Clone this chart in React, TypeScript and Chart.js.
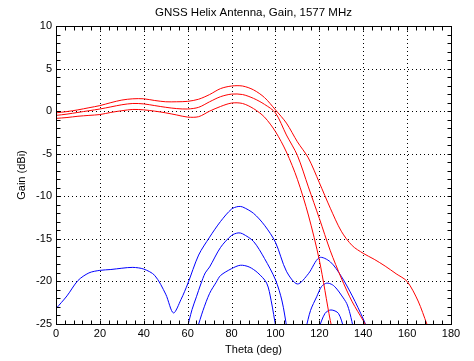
import { useEffect, useRef } from "react";
import { Chart, registerables } from "chart.js";

Chart.register(...registerables);

const chartTitle = "GNSS Helix Antenna, Gain, 1577 MHz";
const xAxisTitle = "Theta (deg)";
const yAxisTitle = "Gain (dBi)";

const xTickValues = [0, 20, 40, 60, 80, 100, 120, 140, 160, 180];
const yTickValues = [-25, -20, -15, -10, -5, 0, 5, 10];
const xMinorStep = 4;
const yMinorStep = 1;

// Red curves
const redUpperTheta = [0, 5, 10, 15, 20, 25, 30, 35, 40, 45, 50, 55, 60, 65, 70, 75, 80, 85, 90, 95, 100, 105, 110, 115, 120, 125, 130, 135, 140, 145, 150, 155, 160, 165, 169, 171];
const redUpperGain = [-0.2, -0.05, 0.15, 0.4, 0.65, 1.0, 1.3, 1.45, 1.45, 1.25, 1.1, 1.1, 1.15, 1.4, 1.95, 2.65, 2.95, 2.95, 2.5, 1.6, 0.15, -1.4, -3.6, -5.5, -8.4, -11.4, -14.1, -15.8, -16.7, -17.4, -18.2, -19.1, -20.0, -22.3, -25.0, -26.3];

const redMiddleTheta = [0, 5, 10, 15, 20, 25, 30, 35, 40, 45, 50, 55, 60, 65, 70, 75, 80, 85, 90, 95, 100, 105, 110, 115, 120, 125, 130, 135, 140, 143];
const redMiddleGain = [-0.5, -0.35, -0.15, 0.05, 0.25, 0.5, 0.75, 0.9, 0.85, 0.65, 0.45, 0.3, 0.25, 0.45, 1.1, 1.7, 2.0, 1.95, 1.5, 0.8, -0.2, -2.8, -5.2, -8.9, -12.6, -16.4, -19.6, -22.4, -24.6, -26.0];

const redLowerTheta = [0, 5, 10, 15, 20, 25, 30, 35, 40, 45, 50, 55, 60, 65, 70, 75, 80, 85, 90, 95, 100, 105, 110, 115, 120, 125, 127];
const redLowerGain = [-0.85, -0.75, -0.6, -0.5, -0.4, -0.15, 0.05, 0.2, 0.15, 0.0, -0.2, -0.45, -0.7, -0.65, 0.0, 0.55, 0.95, 0.9, 0.3, -0.7, -2.4, -4.8, -8.0, -12.2, -17.5, -24.6, -26.8];

// Blue curves
const blueUpperTheta = [0, 5, 10, 15, 20, 25, 30, 35, 40, 45, 50, 53.5, 57, 60, 65, 70, 75, 80, 83, 85, 90, 95, 100, 105, 110, 115, 120, 125, 130, 135, 140, 142.5];
const blueUpperGain = [-23.2, -21.7, -19.9, -19.0, -18.7, -18.6, -18.45, -18.35, -18.55, -19.3, -21.5, -23.7, -22.1, -20.3, -16.9, -14.8, -12.95, -11.5, -11.2, -11.25, -12.0, -13.4, -15.4, -18.8, -20.3, -19.1, -17.2, -17.7, -19.4, -21.7, -24.4, -26.0];

const blueMiddleTheta = [59.5, 62, 64, 66, 68, 70, 75, 80, 83, 85, 90, 95, 100, 103, 105.3, 110, 113.8, 116, 118.8, 121, 123.4, 126, 128, 130, 132.5, 134, 135.6];
const blueMiddleGain = [-25.8, -23.3, -21.8, -20.3, -19.0, -18.3, -16.0, -14.6, -14.3, -14.4, -15.3, -17.3, -19.8, -22.3, -25.6, null, -25.6, -23.4, -21.8, -20.6, -20.2, -20.4, -20.9, -21.6, -22.6, -23.8, -25.6];

const blueLowerTheta = [64.3, 67, 70, 73, 75, 80, 84, 88, 92, 96, 98, 100.3, 110, 119.6, 122.6, 125.3, 128.7, 131.3];
const blueLowerGain = [-25.6, -23.4, -21.4, -20.1, -19.3, -18.5, -18.1, -18.3, -19.0, -20.2, -22.2, -25.6, null, -25.6, -23.75, -23.35, -23.75, -25.6];

const FONT = '"Liberation Sans", Arial, Helvetica, sans-serif';

function toPoints(theta: number[], gain: (number | null)[]) {
  return theta.map((t, i) => ({ x: t, y: gain[i] }));
}

const framePlugin = {
  id: "matlabFrame",
  beforeDatasetsDraw(chart: any) {
    const { ctx, chartArea: a, scales } = chart;
    const x = scales.x;
    const y = scales.y;
    ctx.save();
    ctx.strokeStyle = "#000";
    ctx.lineWidth = 1;
    ctx.setLineDash([1, 3]);
    for (const v of xTickValues) {
      if (v === x.min || v === x.max) continue;
      const px = Math.round(x.getPixelForValue(v)) + 0.5;
      ctx.beginPath();
      ctx.moveTo(px, a.bottom);
      ctx.lineTo(px, a.top);
      ctx.stroke();
    }
    for (const v of yTickValues) {
      if (v === y.min || v === y.max) continue;
      const py = Math.round(y.getPixelForValue(v)) + 0.5;
      ctx.beginPath();
      ctx.moveTo(a.left, py);
      ctx.lineTo(a.right, py);
      ctx.stroke();
    }
    ctx.restore();
  },
  afterDatasetsDraw(chart: any) {
    const { ctx, chartArea: a, scales } = chart;
    const x = scales.x;
    const y = scales.y;
    const L = Math.round(a.left) + 0.5;
    const R = Math.round(a.right) + 0.5;
    const T = Math.round(a.top) + 0.5;
    const B = Math.round(a.bottom) + 0.5;
    const tl = 4;
    ctx.save();
    ctx.strokeStyle = "#000";
    ctx.lineWidth = 1;
    ctx.setLineDash([]);
    ctx.beginPath();
    for (let v = x.min; v <= x.max + 1e-9; v += xMinorStep) {
      const px = Math.round(x.getPixelForValue(v)) + 0.5;
      ctx.moveTo(px, B);
      ctx.lineTo(px, B - tl);
      ctx.moveTo(px, T);
      ctx.lineTo(px, T + tl);
    }
    for (let v = y.min; v <= y.max + 1e-9; v += yMinorStep) {
      const py = Math.round(y.getPixelForValue(v)) + 0.5;
      ctx.moveTo(L, py);
      ctx.lineTo(L + tl, py);
      ctx.moveTo(R, py);
      ctx.lineTo(R - tl, py);
    }
    ctx.stroke();
    ctx.strokeRect(L, T, R - L, B - T);
    ctx.restore();
  },
  afterDraw(chart: any) {
    const { ctx, chartArea: a } = chart;
    ctx.save();
    ctx.fillStyle = "#000";
    ctx.font = `11.5px ${FONT}`;
    ctx.textAlign = "center";
    ctx.textBaseline = "middle";
    ctx.fillText(chartTitle, (a.left + a.right) / 2, 13);
    ctx.restore();
  },
};

export default function App() {
  const canvasRef = useRef<HTMLCanvasElement | null>(null);

  useEffect(() => {
    if (!canvasRef.current) return;
    const line = (label: string, color: string, theta: number[], gain: (number | null)[]) => ({
      label,
      data: toPoints(theta, gain),
      borderColor: color,
      backgroundColor: color,
      borderWidth: 1,
      pointRadius: 0,
      tension: 0.3,
      spanGaps: false,
      fill: false,
    });
    const chart = new Chart(canvasRef.current, {
      type: "line",
      data: {
        datasets: [
          line("Red upper", "#ff0000", redUpperTheta, redUpperGain),
          line("Red middle", "#ff0000", redMiddleTheta, redMiddleGain),
          line("Red lower", "#ff0000", redLowerTheta, redLowerGain),
          line("Blue upper", "#0000ff", blueUpperTheta, blueUpperGain),
          line("Blue middle", "#0000ff", blueMiddleTheta, blueMiddleGain),
          line("Blue lower", "#0000ff", blueLowerTheta, blueLowerGain),
        ] as any,
      },
      options: {
        animation: false,
        responsive: true,
        maintainAspectRatio: false,
        events: [],
        layout: { padding: { left: 0, right: 23, top: 26, bottom: 0 } },
        plugins: {
          legend: { display: false },
          title: { display: false },
          tooltip: { enabled: false },
        },
        scales: {
          x: {
            type: "linear",
            min: 0,
            max: 180,
            grid: { display: false, drawTicks: false },
            border: { display: false },
            afterBuildTicks: (s: any) => {
              s.ticks = xTickValues.map((v) => ({ value: v }));
            },
            afterFit: (s: any) => {
              s.height = 37;
            },
            ticks: {
              color: "#000",
              font: { family: FONT, size: 11 },
              padding: 3,
              maxRotation: 0,
              autoSkip: false,
            },
            title: {
              display: true,
              text: xAxisTitle,
              color: "#000",
              font: { family: FONT, size: 11 },
              padding: { top: 0, bottom: 4 },
            },
          },
          y: {
            type: "linear",
            min: -25,
            max: 10,
            grid: { display: false, drawTicks: false },
            border: { display: false },
            afterBuildTicks: (s: any) => {
              s.ticks = yTickValues.map((v) => ({ value: v }));
            },
            afterFit: (s: any) => {
              s.width = 56;
            },
            ticks: {
              color: "#000",
              font: { family: FONT, size: 11 },
              padding: 4,
              autoSkip: false,
            },
            title: {
              display: true,
              text: yAxisTitle,
              color: "#000",
              font: { family: FONT, size: 11 },
              padding: { top: 15, bottom: 0 },
            },
          },
        },
      },
      plugins: [framePlugin],
    });
    return () => chart.destroy();
  }, []);

  return (
    <div style={{ position: "absolute", left: 0, top: 0, width: 474, height: 361, background: "#fff" }}>
      <canvas ref={canvasRef} />
    </div>
  );
}
